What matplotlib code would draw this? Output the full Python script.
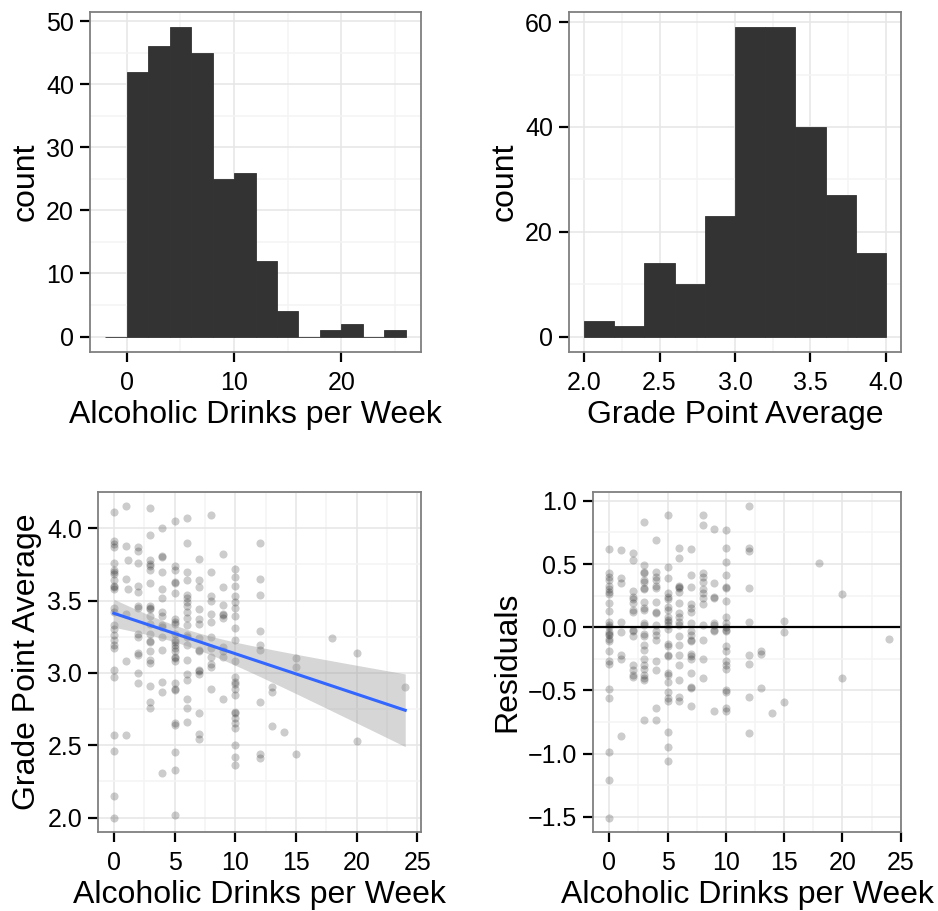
import numpy as np
import matplotlib
matplotlib.use("Agg")
import matplotlib.pyplot as plt
from matplotlib.ticker import MultipleLocator

plt.rcParams['font.family'] = ['Liberation Sans', 'DejaVu Sans']

# histogram of drinks per week (bin width 2)
drink_edges = [-2, 0, 2, 4, 6, 8, 10, 12, 14, 16, 18, 20, 22, 24, 26]
drink_counts = [0, 42, 46, 49, 45, 25, 26, 12, 4, 0, 1, 2, 0, 1]

# histogram of GPA (bin width 0.2)
gpa_edges = [2.0, 2.2, 2.4, 2.6, 2.8, 3.0, 3.2, 3.4, 3.6, 3.8, 4.0]
gpa_counts = [3, 2, 14, 10, 23, 59, 59, 40, 27, 16]

# scatter points, grouped by drinks per week
drink_levels = [0, 1, 1.2, 2, 3, 4, 5, 6, 7, 8, 9, 10, 12, 13, 14, 15, 18, 20, 24]
gpa_by_level = [
    [4.11, 3.91, 3.89, 3.87, 3.76, 3.71, 3.70, 3.68, 3.64, 3.60, 3.59, 3.58, 3.45,
     3.42, 3.33, 3.30, 3.26, 3.23, 3.19, 3.17, 3.02, 2.97, 2.57, 2.46, 2.15, 2.00],
    [4.15, 3.88, 3.65, 3.41, 3.08, 2.57],
    [3.78, 3.58],
    [3.87, 3.84, 3.76, 3.60, 3.56, 3.46, 3.45, 3.27, 3.25, 3.14, 3.12, 3.00, 2.93],
    [4.14, 3.95, 3.78, 3.75, 3.74, 3.71, 3.62, 3.46, 3.45, 3.44, 3.39, 3.34, 3.27,
     3.22, 3.21, 3.15, 3.09, 3.07, 2.91, 2.80, 2.76],
    [4.00, 3.81, 3.80, 3.70, 3.58, 3.52, 3.42, 3.39, 3.33, 3.32, 3.25, 3.16, 2.94,
     2.87, 2.31],
    [4.05, 3.74, 3.71, 3.63, 3.62, 3.55, 3.37, 3.35, 3.34, 3.27, 3.23, 3.21, 3.19,
     3.17, 3.15, 3.11, 3.10, 3.08, 2.93, 2.89, 2.88, 2.65, 2.64, 2.45, 2.33, 2.02],
    [4.07, 3.90, 3.70, 3.64, 3.54, 3.52, 3.49, 3.46, 3.42, 3.38, 3.33, 3.26, 3.25,
     3.19, 3.09, 2.99, 2.95, 2.82, 2.76, 2.66],
    [3.79, 3.64, 3.59, 3.44, 3.37, 3.34, 3.24, 3.16, 3.15, 3.02, 3.01, 2.99, 2.72,
     2.58, 2.54],
    [4.09, 3.70, 3.53, 3.50, 3.41, 3.35, 3.25, 3.17, 3.11, 3.06, 3.04, 2.89],
    [3.82, 3.59, 3.47, 3.41, 3.40, 3.38, 3.18, 3.15, 3.11, 2.82],
    [3.72, 3.66, 3.60, 3.53, 3.49, 3.45, 3.39, 3.31, 3.23, 3.08, 2.97, 2.94, 2.92,
     2.89, 2.85, 2.73, 2.72, 2.69, 2.65, 2.62, 2.50, 2.42, 2.36],
    [3.90, 3.65, 3.54, 3.29, 3.19, 3.16, 2.80, 2.44, 2.41],
    [2.90, 2.87, 2.63],
    [2.59],
    [3.10, 3.04, 2.44],
    [3.24],
    [3.14, 2.53],
    [2.90],
]

# residual plot points, grouped by drinks per week
resid_levels = [0, 1, 2, 3, 4, 5, 6, 7, 8, 9, 10, 12, 13, 14, 15, 18, 20, 24]
resid_by_level = [
    [0.62, 0.43, 0.40, 0.37, 0.33, 0.30, 0.28, 0.26, 0.19, 0.13, 0.04, 0.02, 0.00,
     -0.04, -0.05, -0.06, -0.09, -0.11, -0.19, -0.27, -0.29, -0.49, -0.56, -0.99,
     -1.21, -1.51],
    [0.61, 0.39, 0.35, 0.04, -0.04, -0.22, -0.25, -0.86],
    [0.59, 0.53, 0.29, 0.24, 0.22, 0.19, 0.14, 0.12, -0.02, -0.03, -0.07, -0.30,
     -0.34, -0.38, -0.39],
    [0.83, 0.49, 0.44, 0.43, 0.37, 0.36, 0.31, 0.30, 0.20, 0.15, 0.14, 0.03, 0.02,
     -0.05, -0.07, -0.14, -0.18, -0.25, -0.30, -0.33, -0.38, -0.40, -0.42, -0.73],
    [0.69, 0.44, 0.40, 0.37, 0.33, 0.31, 0.20, 0.12, 0.11, 0.02, -0.03, -0.06,
     -0.10, -0.27, -0.34, -0.64, -0.73],
    [0.89, 0.48, 0.39, 0.27, 0.24, 0.22, 0.16, 0.14, 0.08, 0.06, 0.04, 0.02, -0.01,
     -0.13, -0.15, -0.22, -0.23, -0.36, -0.38, -0.43, -0.51, -0.56, -0.58, -0.83,
     -0.95, -1.06],
    [0.63, 0.55, 0.33, 0.32, 0.31, 0.28, 0.19, 0.11, 0.08, 0.04, 0.02, -0.07,
     -0.14, -0.22, -0.30, -0.42, -0.55, -0.58],
    [0.62, 0.41, 0.32, 0.18, 0.15, 0.12, 0.03, -0.03, -0.06, -0.10, -0.11, -0.21,
     -0.23, -0.25, -0.36, -0.47, -0.48, -0.62],
    [0.89, 0.81, 0.43, 0.40, 0.36, 0.30, 0.27, 0.23, 0.18, 0.02, -0.10, -0.25, -0.40],
    [0.78, 0.35, 0.24, 0.23, 0.03, 0.02, -0.02, -0.03, -0.66],
    [0.77, 0.63, 0.52, 0.41, 0.32, 0.31, 0.21, 0.08, 0.03, 0.00, -0.02, -0.03,
     -0.15, -0.19, -0.27, -0.30, -0.33, -0.50, -0.51, -0.64, -0.66],
    [0.96, 0.63, 0.60, 0.31, 0.04, -0.22, -0.29, -0.55, -0.84],
    [-0.19, -0.21, -0.48],
    [-0.68],
    [0.05, -0.04, -0.59],
    [0.51],
    [0.26, -0.40],
    [-0.09],
]

drinks = np.concatenate([[lv] * len(g) for lv, g in zip(drink_levels, gpa_by_level)])
gpa = np.concatenate(gpa_by_level)
resid_x = np.concatenate([[lv] * len(g) for lv, g in zip(resid_levels, resid_by_level)])
resid = np.concatenate(resid_by_level)

# linear fit + 95% band (as geom_smooth(method="lm"))
slope, intercept = np.polyfit(drinks, gpa, 1)
fit_res = gpa - (intercept + slope * drinks)
n = len(drinks)
s = np.sqrt(np.sum(fit_res ** 2) / (n - 2))
xs = np.linspace(drinks.min(), drinks.max(), 80)
se = s * np.sqrt(1 / n + (xs - drinks.mean()) ** 2 / np.sum((drinks - drinks.mean()) ** 2))
ys = intercept + slope * xs

W, H = 938, 911
fig = plt.figure(figsize=(W / 100, H / 100), dpi=100)


def panel(l, t, r, b):
    return fig.add_axes([l / W, 1 - b / H, (r - l) / W, (b - t) / H])


def style(ax, xmaj, xmin, ymaj, ymin):
    ax.set_facecolor('white')
    for sp in ax.spines.values():
        sp.set_color('#7f7f7f')
        sp.set_linewidth(1.3)
    ax.xaxis.set_major_locator(MultipleLocator(xmaj))
    ax.xaxis.set_minor_locator(MultipleLocator(xmin))
    ax.yaxis.set_major_locator(MultipleLocator(ymaj))
    ax.yaxis.set_minor_locator(MultipleLocator(ymin))
    ax.grid(which='major', color='#e6e6e6', lw=1.1)
    ax.grid(which='minor', color='#f4f4f4', lw=1.1)
    ax.set_axisbelow(True)
    ax.tick_params(which='major', direction='out', length=7.5, width=1.6,
                   color='black', labelsize=18, labelcolor='black')
    ax.tick_params(axis='x', which='major', pad=6)
    ax.tick_params(axis='y', which='major', pad=4)
    ax.tick_params(which='minor', length=0)


label_kw = dict(fontsize=23, labelpad=4)

# top left: drinks histogram
ax1 = panel(90, 12, 421, 352)
ax1.bar(drink_edges[:-1], drink_counts, width=2, align='edge', color='#333333',
        edgecolor='#333333', lw=0.6)
ax1.set_xlim(-3.4, 27.4)
ax1.set_ylim(-2.45, 51.45)
style(ax1, 10, 5, 10, 5)
ax1.set_xlabel('Alcoholic Drinks per Week', **label_kw)
ax1.set_ylabel('count', **label_kw)

# top right: GPA histogram
ax2 = panel(569, 12, 901, 352)
ax2.bar(gpa_edges[:-1], gpa_counts, width=0.2, align='edge', color='#333333',
        edgecolor='#333333', lw=0.6)
ax2.set_xlim(1.9, 4.1)
ax2.set_ylim(-2.95, 61.95)
style(ax2, 0.5, 0.25, 20, 10)
ax2.xaxis.set_major_formatter(lambda v, p: f'{v:.1f}')
ax2.set_xlabel('Grade Point Average', **label_kw)
ax2.set_ylabel('count', **label_kw)

# bottom left: scatter with regression line
ax3 = panel(98, 492, 421, 832)
ax3.scatter(drinks, gpa, s=34, color='black', alpha=0.2, lw=0)
ax3.fill_between(xs, ys - 1.97 * se, ys + 1.97 * se, color='#999999', alpha=0.4, lw=0)
ax3.plot(xs, ys, color='#3366ff', lw=2.2)
ax3.set_xlim(-1.3, 25.3)
ax3.set_ylim(1.90, 4.25)
style(ax3, 5, 2.5, 0.5, 0.25)
ax3.yaxis.set_major_formatter(lambda v, p: f'{v:.1f}')
ax3.set_xlabel('Alcoholic Drinks per Week', **label_kw)
ax3.set_ylabel('Grade Point Average', **label_kw)

# bottom right: residuals
ax4 = panel(593, 492, 901, 832)
ax4.scatter(resid_x, resid, s=34, color='black', alpha=0.2, lw=0)
ax4.axhline(0, color='black', lw=1.6)
ax4.set_xlim(-1.4, 25.03)
ax4.set_ylim(-1.62, 1.07)
style(ax4, 5, 2.5, 0.5, 0.25)
ax4.yaxis.set_major_formatter(lambda v, p: f'{v:.1f}'.replace('-', '\u2212'))
ax4.set_xlabel('Alcoholic Drinks per Week', **label_kw)
ax4.set_ylabel('Residuals', **label_kw)

fig.savefig('out.png', dpi=100)
